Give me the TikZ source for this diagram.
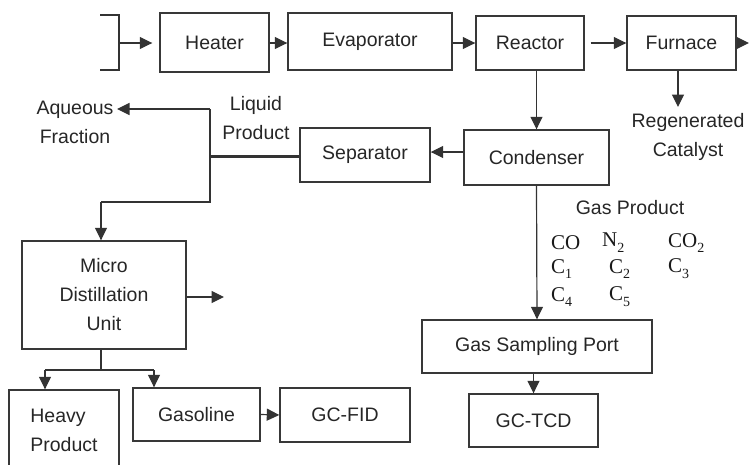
\documentclass[tikz,border=0pt]{standalone}
\usepackage{fontspec}
\setmainfont{Liberation Sans}
\newfontfamily\chemfont{Liberation Serif}
\usetikzlibrary{arrows.meta}
\newcommand{\chsub}[1]{\raisebox{-0.28em}{\fontsize{14}{14}\selectfont #1}}
\begin{document}
\begin{tikzpicture}[x=1pt,y=-1pt,
  every node/.style={font=\fontsize{19.5}{29}\selectfont, text=black!85},
  box/.style={draw=black!78, line width=1.4pt, inner sep=0pt, align=center},
  conn/.style={draw=black!80, line width=1.2pt},
  arr/.style={conn, -{Triangle[length=12.5pt,width=12pt]}},
  chem/.style={font=\chemfont\fontsize{21}{24}\selectfont, text=black!90, anchor=west, inner sep=0pt}
]
\useasboundingbox (0,0) rectangle (749,464);
% boxes
\node[box, minimum width=109pt, minimum height=59pt] (heater) at (214.5,42.5) {Heater};
\node[box, minimum width=164pt, minimum height=57pt] (evap) at (370,41.5) {Evaporator};
\node[box, minimum width=108pt, minimum height=54pt] (reactor) at (530,43) {Reactor};
\node[box, minimum width=109pt, minimum height=54pt] (furnace) at (681.5,43) {Furnace};
\node[box, minimum width=145pt, minimum height=55pt] (cond) at (536.5,157.5) {Condenser};
\node[box, minimum width=130pt, minimum height=54pt] (sep) at (365,155) {Separator};
\node[box, minimum width=164pt, minimum height=108pt] (micro) at (104,295) {Micro\\Distillation\\Unit};
\node[box, minimum width=110pt, minimum height=80pt, align=left] (heavy) at (64,430) {Heavy\\Product};
\node[box, minimum width=127pt, minimum height=53pt] (gasoline) at (196.5,414.5) {Gasoline};
\node[box, minimum width=130pt, minimum height=54pt] (gcfid) at (345,415) {GC-FID};
\node[box, minimum width=230pt, minimum height=53pt] (gsp) at (537,346.5) {Gas Sampling Port};
\node[box, minimum width=129pt, minimum height=53pt] (gctcd) at (533.5,420.5) {GC-TCD};
% labels
\node[align=center] (regen) at (688,137) {Regenerated\\Catalyst};
\node[align=center] (aqueous) at (75,122) {Aqueous\\Fraction};
\node[align=center] (liquid) at (256,118) {Liquid\\Product};
\node (gasprod) at (630,208) {Gas Product};
\node[chem] (co) at (551,243) {CO};
\node[chem] (n2) at (602,243) {N\chsub{2}};
\node[chem] (co2) at (668,243) {CO\chsub{2}};
\node[chem] (c1) at (551,269) {C\chsub{1}};
\node[chem] (c2) at (609,269) {C\chsub{2}};
\node[chem] (c3) at (668,269) {C\chsub{3}};
\node[chem] (c4) at (551,297) {C\chsub{4}};
\node[chem] (c5) at (609,297) {C\chsub{5}};
% coordinates
\coordinate (bt) at (100,15);
\coordinate (bb) at (100,70);
\coordinate (bm) at (119,43);
\coordinate (fout) at (749,43);
\coordinate (fdown) at (678,107);
\coordinate (lq) at (210,156);
\coordinate (lqtop) at (210,109);
\coordinate (lqbot) at (210,202);
\coordinate (lqleft) at (101,202);
\coordinate (mright) at (224,297);
\coordinate (msplit) at (101,370);
\coordinate (hl) at (45,370);
\coordinate (gl) at (154,370);
% connectors
\draw[conn] (bt) -| (bm) |- (bb);
\draw[arr, shorten >=7pt] (bm) -- (heater.west |- bm);
\draw[arr] (heater.east |- bm) -- (evap.west |- bm);
\draw[arr] (evap.east |- reactor) -- (reactor.west);
\draw[arr, shorten <=6pt] (reactor.east) -- (furnace.west);
\draw[arr] (furnace.east) -- (fout);
\draw[arr] (furnace.south -| fdown) -- (fdown);
\draw[arr] (reactor.south -| cond.north) -- (cond.north);
\draw[arr] (cond.west |- 0,152) -- (sep.east |- 0,152);
\draw[conn, line width=3pt] (sep.west |- lq) -- (lq);
\draw[conn] (lqtop) -- (lqbot) -- (lqleft);
\draw[arr] (lqtop) -- (aqueous.east |- lqtop);
\draw[arr] (lqleft) -- (micro.north -| lqleft);
\draw[arr] (micro.east |- mright) -- (mright);
\draw[conn] (micro.south -| msplit) -- (msplit);
\draw[conn] (hl) -- (gl);
\draw[arr] (hl) -- (heavy.north -| hl);
\draw[arr] (gl) -- (gasoline.north -| gl);
\draw[arr] (gasoline.east) -- (gcfid.west);
\draw[arr] (cond.south) -- (gsp.north);
\draw[arr] (gsp.south -| gctcd.north) -- (gctcd.north);
\end{tikzpicture}
\end{document}
